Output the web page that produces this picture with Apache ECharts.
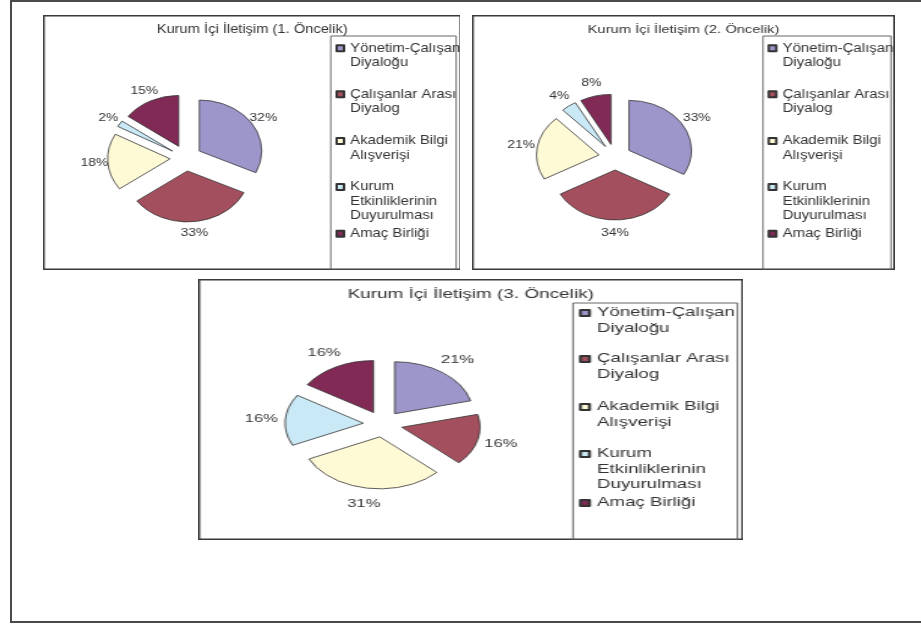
<!DOCTYPE html>
<html>
<head>
<meta charset="utf-8">
<script src="https://cdn.jsdelivr.net/npm/echarts@6/dist/echarts.min.js"></script>
<style>
  html, body { margin: 0; padding: 0; background: #fff; width: 921px; height: 624px; overflow: hidden; }
  #frame { position: absolute; left: 10px; top: 0; width: 940px; height: 619px; border: 2px solid #4a4a4a; border-right: none; }
  .panel { position: absolute; transform-origin: 0 0; }
</style>
</head>
<body>
<div id="frame"></div>
<div id="c1" class="panel"></div>
<div id="c2" class="panel"></div>
<div id="c3" class="panel"></div>
<script>
// Categories of internal communication and their wrapped legend lines
const categories = [
  'Yönetim-Çalışan Diyaloğu',
  'Çalışanlar Arası Diyalog',
  'Akademik Bilgi Alışverişi',
  'Kurum Etkinliklerinin Duyurulması',
  'Amaç Birliği'
];
const legendLines = [
  ['Yönetim-Çalışan', 'Diyaloğu'],
  ['Çalışanlar Arası', 'Diyalog'],
  ['Akademik Bilgi', 'Alışverişi'],
  ['Kurum', 'Etkinliklerinin', 'Duyurulması'],
  ['Amaç Birliği']
];
const titles = [
  'Kurum İçi İletişim (1. Öncelik)',
  'Kurum İçi İletişim (2. Öncelik)',
  'Kurum İçi İletişim (3. Öncelik)'
];
// Shares (%) per priority level
const priority1 = [32, 33, 18, 2, 15];
const priority2 = [33, 34, 21, 4, 8];
const priority3 = [21, 16, 31, 16, 16];

const colors = ['#9C96CA', '#A44F5E', '#FFFAD6', '#C9E9F6', '#812A56'];
const FONT = '"Liberation Sans", Arial, sans-serif';
const TEXT = '#333333';

// Panel geometry: page box (px), horizontal stretch, and inner layout in unstretched px
const panels = [
  { id: 'c1', values: priority1, title: titles[0],
    left: 43, top: 15, width: 417, height: 255, sx: 1.22,
    center: [116.8, 143], radius: 51, offset: 13, labelLen: 11, labelSize: 11.3,
    titleSize: 12, titleCenterY: 16,
    legendBox: [235.2, 21, 102.5, 234], legendX: 239, legendRows: [33.3, 79.3, 126, 172, 218.7],
    legendSize: 12.2, lineH: 14.5 },
  { id: 'c2', values: priority2, title: titles[1],
    left: 472, top: 15, width: 423, height: 255, sx: 1.25,
    center: [114.4, 142], radius: 50, offset: 13, labelLen: 13, labelSize: 11.1,
    titleSize: 11.8, titleCenterY: 16,
    legendBox: [232.8, 21, 102.4, 234], legendX: 236.4, legendRows: [33.3, 79.3, 126, 172, 218.7],
    legendSize: 12, lineH: 14.5 },
  { id: 'c3', values: priority3, title: titles[2],
    left: 198, top: 279, width: 544, height: 261, sx: 1.5,
    center: [122.9, 145], radius: 52, offset: 13, labelLen: 16, labelSize: 11,
    titleSize: 12.6, titleCenterY: 16,
    legendBox: [249.3, 24, 109.4, 237], legendX: 253.3, legendRows: [34, 80, 128, 175, 224],
    legendSize: 12.4, lineH: 15.5 }
];

panels.forEach(function (p) {
  const el = document.getElementById(p.id);
  const w0 = p.width / p.sx;
  el.style.left = p.left + 'px';
  el.style.top = p.top + 'px';
  el.style.width = w0 + 'px';
  el.style.height = p.height + 'px';
  el.style.transform = 'scaleX(' + p.sx + ')';

  const chart = echarts.init(el, null, { renderer: 'canvas', width: w0, height: p.height });

  // One legend per entry so the marker sits beside the first text line
  const legends = categories.map(function (name, i) {
    const n = legendLines[i].length;
    const blank = new Array(n).join('\n');   // n-1 leading empty lines
    return {
      data: [name],
      left: p.legendX,
      top: p.legendRows[i] - (n - 0.5) * p.lineH,
      orient: 'vertical',
      padding: 0,
      itemGap: 0,
      itemWidth: 6,
      itemHeight: 6,
      icon: 'rect',
      selectedMode: false,
      formatter: function () { return blank + legendLines[i].join('\n'); },
      textStyle: { fontFamily: FONT, fontSize: p.legendSize, color: TEXT, lineHeight: p.lineH }
    };
  });

  chart.setOption({
    animation: false,
    title: {
      text: p.title,
      left: 'center',
      top: p.titleCenterY - p.titleSize / 2 - 1,
      padding: 0,
      textStyle: { fontFamily: FONT, fontSize: p.titleSize, fontWeight: 'normal', color: TEXT }
    },
    legend: legends,
    graphic: [
      { type: 'rect', silent: true,
        shape: { x: 0.75, y: 0.75, width: w0 - 1.5, height: p.height - 1.5 },
        style: { fill: 'none', stroke: '#3a3a3a', lineWidth: 1.4 } },
      { type: 'rect', silent: true,
        shape: { x: p.legendBox[0], y: p.legendBox[1], width: p.legendBox[2], height: p.legendBox[3] },
        style: { fill: 'none', stroke: '#555', lineWidth: 0.9 } }
    ],
    series: [{
      type: 'pie',
      center: p.center,
      radius: p.radius,
      startAngle: 90,
      clockwise: true,
      selectedMode: 'multiple',
      selectedOffset: p.offset,
      avoidLabelOverlap: false,
      emphasis: { disabled: true },
      itemStyle: { borderColor: '#333', borderWidth: 0.8 },
      select: { itemStyle: { borderColor: '#333', borderWidth: 0.8 } },
      label: {
        show: true, position: 'outside', formatter: '{c}%',
        fontFamily: FONT, fontSize: p.labelSize, color: TEXT,
        distanceToLabelLine: 0
      },
      labelLine: { show: false, length: p.labelLen, length2: 0 },
      labelLayout: { align: 'center' },
      data: categories.map(function (name, i) {
        return { name: name, value: p.values[i], selected: true, itemStyle: { color: colors[i] } };
      })
    }]
  });
});
</script>
</body>
</html>
